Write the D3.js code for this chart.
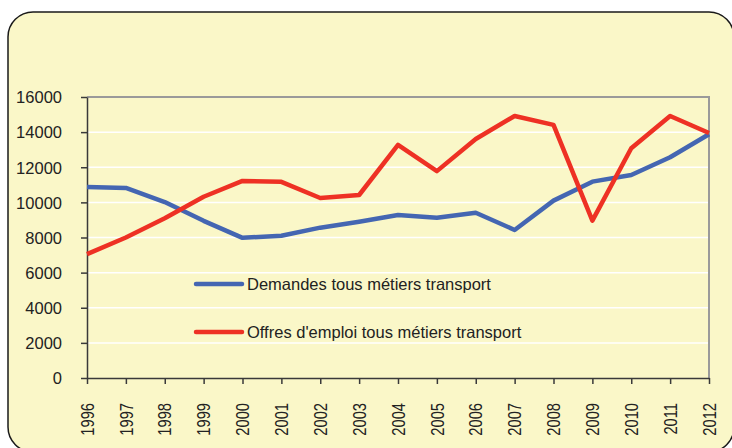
<!DOCTYPE html>
<meta charset="utf-8">
<style>
body { margin: 0; background: #fff; }
svg { display: block; font-family: "Liberation Sans", Arial, sans-serif; }
.grid line { stroke: #fff; stroke-width: 1.5px; }
.axis path, .axis line { stroke: #3a3a3a; stroke-width: 1.5px; }
.axis text { fill: #222; font-size: 16.5px; }
</style>
<body>
<script src="https://d3js.org/d3.v7.min.js"></script>
<script>

// data
var years = ["1996","1997","1998","1999","2000","2001","2002","2003","2004",
             "2005","2006","2007","2008","2009","2010","2011","2012"];
var demandes = [10880, 10820, 10020, 8950, 7980, 8100, 8560, 8900, 9280,
                9130, 9410, 8430, 10100, 11180, 11560, 12570, 13880];
var offres = [7050, 8000, 9100, 10320, 11220, 11170, 10250, 10420, 13270,
              11780, 13610, 14920, 14410, 8960, 13080, 14920, 13950];
var yTicks = [0, 2000, 4000, 6000, 8000, 10000, 12000, 14000, 16000];
var seriesNames = ["Demandes tous métiers transport", "Offres d'emploi tous métiers transport"];

var W = 732, H = 448;
var margin = {top: 97, right: 23, bottom: 70, left: 87},
    width = W - margin.left - margin.right,
    height = H - margin.top - margin.bottom;

var svg = d3.select("body").append("svg")
    .attr("width", W)
    .attr("height", H);

// rounded yellow frame
svg.append("rect")
    .attr("x", 8).attr("y", 12)
    .attr("width", 726).attr("height", 440)
    .attr("rx", 25).attr("ry", 25)
    .attr("fill", "#faf7c8")
    .attr("stroke", "#1a1a1a")
    .attr("stroke-width", 1.5);

var g = svg.append("g")
    .attr("transform", "translate(" + margin.left + "," + margin.top + ")");

var x = d3.scalePoint().domain(years).range([0, width]);
var y = d3.scaleLinear().domain([0, 16000]).range([height, 0]);

// gridlines
g.append("g").attr("class", "grid")
  .selectAll("line")
  .data(yTicks.filter(function(d) { return d > 0 && d < 16000; }))
  .join("line")
    .attr("x1", 0).attr("x2", width)
    .attr("y1", function(d) { return y(d); })
    .attr("y2", function(d) { return y(d); });

// top and right border
g.append("path")
    .attr("d", "M0," + y(16000) + "H" + width + "V" + height)
    .attr("fill", "none")
    .attr("stroke", "#9a9a9a")
    .attr("stroke-width", 2);

// axes
g.append("g").attr("class", "axis")
    .call(d3.axisLeft(y).tickValues(yTicks).tickFormat(d3.format("d"))
      .tickSize(6).tickSizeOuter(0).tickPadding(19))
    .call(function(a) { a.selectAll("text").attr("dy", "0.35em"); });

var xa = g.append("g").attr("class", "axis")
    .attr("transform", "translate(0," + height + ")")
    .call(d3.axisBottom(x).tickSize(6).tickSizeOuter(0));
// labels are narrow in the original, squeeze them a bit
xa.selectAll("text")
    .style("font-size", "17.5px")
    .attr("transform", "rotate(-90) scale(0.84,1)")
    .attr("text-anchor", "end")
    .attr("x", -25 / 0.84)
    .attr("y", 0)
    .attr("dy", "0.35em");

// lines
var line = d3.line()
    .x(function(d, i) { return x(years[i]); })
    .y(function(d) { return y(d); });

var colors = ["#4466b2", "#ee3124"];
[demandes, offres].forEach(function(s, i) {
  g.append("path")
      .datum(s)
      .attr("fill", "none")
      .attr("stroke", colors[i])
      .attr("stroke-width", 4.5)
      .attr("stroke-linejoin", "round")
      .attr("d", line);
});

// legend
var legend = svg.append("g").attr("transform", "translate(196,284)");
seriesNames.forEach(function(name, i) {
  var row = legend.append("g").attr("transform", "translate(0," + (i * 48) + ")");
  row.append("line")
      .attr("x1", 0).attr("x2", 46)
      .attr("stroke", colors[i])
      .attr("stroke-width", 4.5)
      .attr("stroke-linecap", "round");
  row.append("text")
      .attr("x", 51)
      .attr("dy", "0.35em")
      .attr("font-size", 16.5)
      .attr("fill", "#222")
      .text(name);
});

</script>
</body>
